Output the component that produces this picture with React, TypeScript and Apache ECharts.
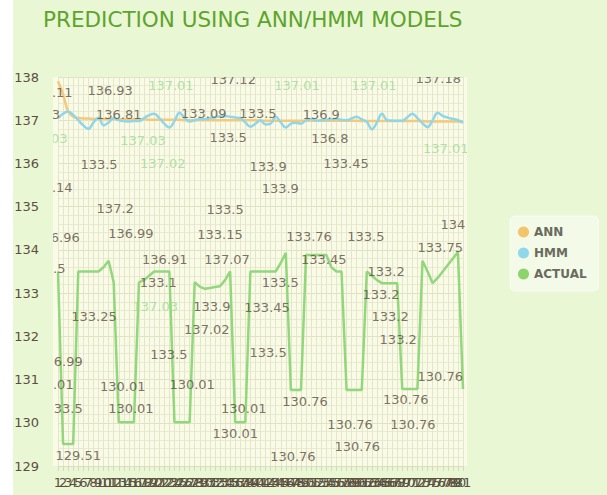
import React, { useEffect, useRef } from "react";
import * as echarts from "echarts";

const categories = Array.from({ length: 81 }, (_, i) => String(i + 1));
const yMin = 129;
const yMax = 138;
const yStep = 1;

const seriesNames = ["ANN", "HMM", "ACTUAL"];

const annValues = [
  137.9, 137.6, 137.2, 137.08, 137.05, 137.04, 137.04, 137.03, 137.03, 137.03,
  137.03, 137.02, 137.02, 137.02, 137.02, 137.02, 137.02, 137.02, 137.01, 137.01,
  137.01, 137.01, 137.01, 137.01, 137.01, 137.0, 137.0, 137.0, 137.0, 137.0,
  137.0, 137.0, 137.0, 137.0, 137.0, 137.0, 137.0, 137.0, 137.0, 137.0,
  136.99, 136.99, 136.99, 136.99, 136.99, 136.99, 136.99, 136.99, 136.99, 136.99,
  136.99, 136.99, 136.99, 136.99, 136.99, 136.99, 136.99, 136.99, 136.99, 136.99,
  136.98, 136.98, 136.98, 136.98, 136.98, 136.98, 136.98, 136.98, 136.98, 136.98,
  136.98, 136.98, 136.98, 136.97, 136.97, 136.97, 136.97, 136.97, 136.97, 136.97,
  136.97,
];

const hmmValues = [
  137.05, 137.15, 137.2, 137.12, 137.0, 136.88, 136.8, 136.95, 137.06, 136.88,
  136.95, 137.05, 137.0, 136.98, 136.97, 136.98, 136.98, 137.05, 137.12, 137.15,
  137.05, 136.92, 136.83, 136.98, 137.17, 137.05, 136.97, 137.0, 137.03, 137.02,
  137.05, 137.07, 137.09, 137.1, 137.08, 137.06, 137.05, 136.95, 136.85, 136.92,
  137.0, 136.9, 136.92, 137.08, 136.95, 136.83, 136.92, 136.94, 136.92, 137.0,
  137.03, 136.99, 137.0, 137.01, 137.02, 137.03, 137.01, 137.0, 137.04, 137.08,
  137.02, 136.96, 136.79, 136.95, 137.15, 137.0, 136.99, 136.99, 136.99, 137.07,
  137.15, 137.05, 136.93, 136.84, 137.0, 137.17, 137.1, 137.06, 137.03, 137.0,
  136.94,
];

const actualValues = [
  133.5, 129.51, 129.51, 129.51, 133.5, 133.5, 133.5, 133.5, 133.5, 133.6,
  133.75, 133.25, 130.01, 130.01, 130.01, 130.01, 133.25, 133.3, 133.4, 133.5,
  133.5, 133.5, 133.5, 130.01, 130.01, 130.01, 130.01, 133.25, 133.15, 133.1,
  133.12, 133.14, 133.16, 133.3, 133.5, 130.01, 130.01, 130.01, 133.5, 133.5,
  133.5, 133.5, 133.5, 133.5, 133.7, 133.93, 130.76, 130.76, 130.76, 133.88,
  133.88, 133.88, 133.88, 133.88, 133.6, 133.5, 133.5, 130.76, 130.76, 130.76,
  130.76, 133.5, 133.4, 133.3, 133.23, 133.23, 133.23, 133.23, 130.78, 130.78,
  130.78, 130.78, 133.75, 133.5, 133.23, 133.35, 133.5, 133.65, 133.8, 133.95,
  130.78,
];

// scattered value annotations: text, position along the x index scale, position on the y scale, tone
const labelTexts = [
  "137.11", "136.93", "137.01", "137.12", "137.01", "137.01", "137.18",
  "136.93", "136.81", "133.09", "133.5", "136.9",
  "137.03", "137.03", "133.5", "136.8",
  "133.5", "137.02", "133.9", "133.45", "133.9", "137.14",
  "133.5", "137.2", "136.96", "136.99", "133.15", "133.76", "133.5",
  "133.5", "136.91", "137.07", "133.45", "133.75", "134",
  "133.1", "133.5", "133.2", "133.2", "137.03", "133.25", "133.9", "133.45",
  "133.2", "137.02", "133.2",
  "133.5", "133.5", "136.99", "130.01", "130.01", "130.01", "130.76", "130.76",
  "133.5", "130.01", "130.01", "130.76", "130.76", "130.76", "130.76",
  "130.01", "130.76", "129.51", "137.01",
];
const labelX = [
  -1.6, 10.3, 22.3, 34.6, 47.2, 62.4, 75.1,
  -4.1, 12.0, 28.8, 39.5, 52.0,
  16.8, -2.6, 33.6, 53.7,
  8.1, 20.7, 41.5, 56.9, 43.9, -1.6,
  33.0, 11.3, -0.2, 14.4, 32.0, 49.6, 60.8,
  -2.2, 21.1, 33.4, 52.5, 75.5, 78.0,
  19.8, 43.9, 64.8, 63.8, 19.2, 7.1, 30.4, 41.3,
  65.6, 29.4, 67.2,
  21.9, 41.5, 0.4, -1.4, 12.8, 26.5, 48.8, 75.5,
  1.2, 14.4, 36.7, 57.7, 68.7, 70.1, 59.1,
  35.0, 46.4, 4.0, 76.6,
];
const labelY = [
  137.63, 137.68, 137.8, 137.94, 137.81, 137.81, 137.97,
  137.13, 137.13, 137.16, 137.16, 137.13,
  136.52, 136.57, 136.59, 136.57,
  135.97, 135.99, 135.92, 135.99, 135.41, 135.44,
  134.93, 134.95, 134.28, 134.39, 134.35, 134.3, 134.3,
  133.56, 133.77, 133.77, 133.77, 134.05, 134.58,
  133.24, 133.24, 133.51, 132.96, 132.68, 132.47, 132.68, 132.66,
  132.45, 132.15, 131.92,
  131.57, 131.62, 131.41, 130.88, 130.85, 130.88, 130.5, 131.06,
  130.32, 130.32, 130.32, 129.97, 130.53, 129.97, 129.44,
  129.76, 129.21, 129.25, 136.34,
];
const labelTone = [
  "d", "d", "g", "d", "g", "g", "d",
  "d", "d", "d", "d", "d",
  "g", "g", "d", "d",
  "d", "g", "d", "d", "d", "d",
  "d", "d", "d", "d", "d", "d", "d",
  "d", "d", "d", "d", "d", "d",
  "d", "d", "d", "d", "g", "d", "d", "d",
  "d", "d", "d",
  "d", "d", "d", "d", "d", "d", "d", "d",
  "d", "d", "d", "d", "d", "d", "d",
  "d", "d", "d", "g",
];

const OUTER = "#e9f7d5";
const PLOT = "#f9fbe7";
const DARK = "#5b4f40";
const GREEN_TXT = "#9bdc95";
const FONT = "DejaVu Sans, Verdana, sans-serif";

export default function App() {
  const ref = useRef<HTMLDivElement>(null);

  useEffect(() => {
    if (!ref.current) return;
    const chart = echarts.init(ref.current, null, { renderer: "svg" });

    const labelData = labelTexts.map((t, i) => ({
      name: t,
      value: [labelX[i], labelY[i]],
      label: { color: labelTone[i] === "g" ? GREEN_TXT : DARK },
    }));

    const gridLeft = 58;
    const gridRight = 144;
    const gridTop = 77;
    const gridBottom = 29;

    chart.setOption({
      animation: false,
      backgroundColor: "transparent",
      title: {
        text: "PREDICTION USING ANN/HMM MODELS",
        left: 43,
        top: 8,
        padding: 0,
        textStyle: {
          color: "#5ea32c",
          fontSize: 21.5,
          fontWeight: "normal",
          fontFamily: FONT,
        },
      },
      legend: {
        data: seriesNames,
        orient: "vertical",
        left: 510,
        top: 216,
        padding: [10, 12, 11, 8],
        itemGap: 9,
        itemWidth: 11,
        itemHeight: 11,
        icon: "circle",
        backgroundColor: "rgba(255,255,255,0.45)",
        borderColor: "rgba(255,255,255,0.6)",
        borderWidth: 1,
        borderRadius: 5,
        textStyle: {
          color: "#6a6a5e",
          fontSize: 12,
          fontWeight: "bold",
          fontFamily: FONT,
        },
      },
      grid: {
        left: gridLeft,
        right: gridRight,
        top: gridTop,
        bottom: gridBottom,
      },
      graphic: [
        {
          type: "rect",
          z: -1,
          shape: { x: 53, y: gridTop, width: 414, height: 495 - gridBottom - gridTop },
          style: { fill: PLOT },
          silent: true,
        },
        {
          type: "rect",
          z: 50,
          shape: { x: 13, y: 60, width: 40, height: 410 },
          style: { fill: OUTER },
          silent: true,
        },
        {
          type: "rect",
          z: 50,
          shape: { x: 467, y: 60, width: 38, height: 410 },
          style: { fill: OUTER },
          silent: true,
        },
        {
          type: "rect",
          z: 50,
          shape: { x: 13, y: 55, width: 492, height: gridTop - 55 },
          style: { fill: OUTER },
          silent: true,
        },
      ],
      xAxis: [
        {
          type: "category",
          data: categories,
          boundaryGap: false,
          axisLine: { show: true, lineStyle: { color: "#dcdfc2" } },
          axisTick: {
            show: true,
            interval: 0,
            length: 5,
            lineStyle: { color: "#d6d9bd" },
          },
          axisLabel: {
            interval: 0,
            color: DARK,
            fontSize: 13,
            fontFamily: FONT,
            margin: 10,
          },
          splitLine: {
            show: true,
            interval: 0,
            lineStyle: { color: "#e4e6cc", width: 1 },
          },
        },
        {
          type: "value",
          min: 0,
          max: 80,
          show: false,
        },
      ],
      yAxis: [
        {
          type: "value",
          min: yMin,
          max: yMax,
          interval: yStep,
          axisLabel: { show: false },
          axisLine: { show: false },
          axisTick: { show: false },
          splitLine: { show: true, lineStyle: { color: "#e0e2c6" } },
          minorTick: { show: false, splitNumber: 5 },
          minorSplitLine: { show: true, lineStyle: { color: "#e8ead2" } },
        },
        {
          type: "value",
          position: "left",
          min: yMin,
          max: yMax,
          interval: yStep,
          z: 60,
          axisLine: { show: false },
          axisTick: { show: false },
          splitLine: { show: false },
          axisLabel: {
            color: DARK,
            fontSize: 13,
            fontFamily: FONT,
            margin: 19,
          },
        },
      ],
      series: [
        {
          name: "ANN",
          type: "line",
          data: annValues,
          smooth: 0.4,
          showSymbol: false,
          symbol: "circle",
          color: "#f3c46c",
          lineStyle: { width: 2.5, color: "#f5c97c" },
          z: 2,
        },
        {
          name: "HMM",
          type: "line",
          data: hmmValues,
          smooth: 0.4,
          showSymbol: false,
          symbol: "circle",
          color: "#8fd7ea",
          lineStyle: { width: 2.5, color: "#90d6e8" },
          z: 2,
        },
        {
          name: "ACTUAL",
          type: "line",
          data: actualValues,
          showSymbol: false,
          symbol: "circle",
          color: "#8ed36c",
          lineStyle: { width: 2.5, color: "#93d77c" },
          z: 2,
        },
        {
          type: "scatter",
          xAxisIndex: 1,
          yAxisIndex: 0,
          data: labelData,
          symbolSize: 0,
          clip: false,
          silent: true,
          z: 3,
          itemStyle: { color: "transparent" },
          label: {
            show: true,
            position: "inside",
            formatter: (p: any) => p.name,
            fontSize: 13,
            fontFamily: FONT,
            color: DARK,
          },
        },
      ],
    });

    return () => {
      chart.dispose();
    };
  }, []);

  return (
    <div
      style={{
        position: "absolute",
        left: 0,
        top: 0,
        width: 607,
        height: 495,
        background: `linear-gradient(90deg, #ffffff 13px, ${OUTER} 13px)`,
      }}
    >
      <div ref={ref} style={{ width: 607, height: 495 }} />
    </div>
  );
}
